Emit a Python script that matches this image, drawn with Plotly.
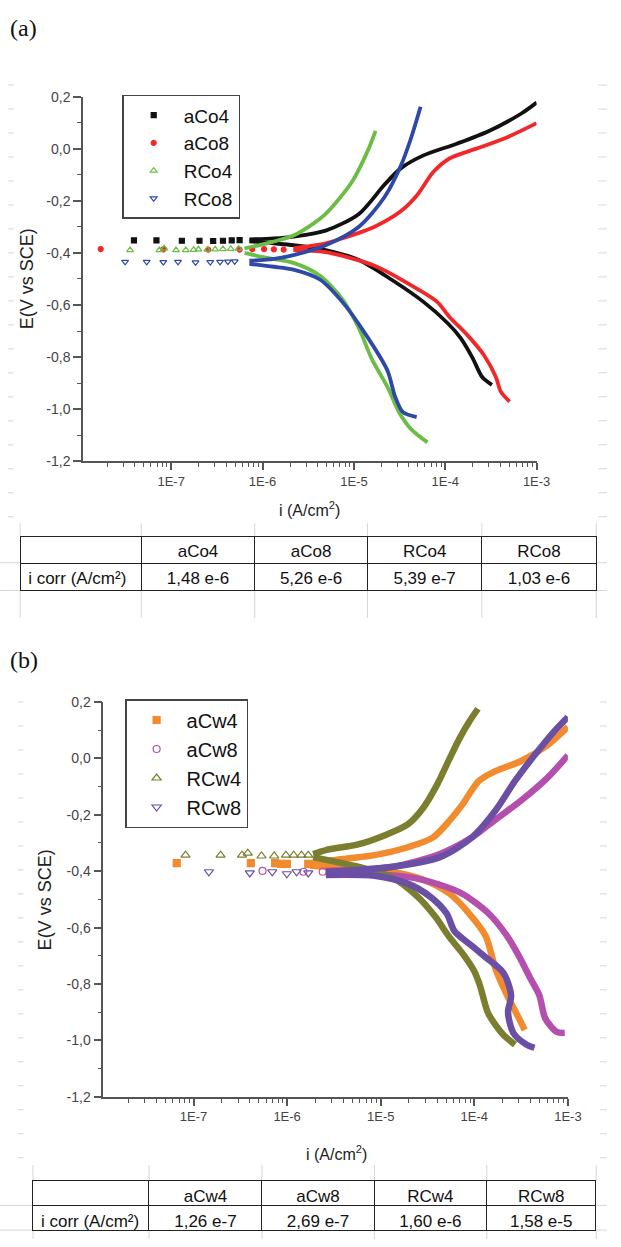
import plotly.graph_objects as go

W, H = 621, 1247

# ---------------- panel (a): Co coatings ----------------
# currents are stored as log10(i / A cm-2), potentials as E (V vs SCE)
aCo4_pts_logi = [-7.407, -7.161, -6.883, -6.690, -6.540, -6.433, -6.337, -6.251]
aCo4_pts_E = [-0.352, -0.352, -0.353, -0.353, -0.354, -0.353, -0.352, -0.351]
aCo4_anod_logi = [-6.144, -5.876, -5.662, -5.309, -4.945, -4.666, -4.484, -4.238, -3.874, -3.521, -3.167, -3.0]
aCo4_anod_E = [-0.348, -0.344, -0.337, -0.314, -0.250, -0.138, -0.074, -0.025, 0.020, 0.069, 0.136, 0.178]
aCo4_cath_logi = [-6.144, -5.876, -5.662, -5.309, -4.945, -4.591, -4.238, -3.970, -3.831, -3.703, -3.596, -3.489]
aCo4_cath_E = [-0.355, -0.363, -0.370, -0.389, -0.427, -0.502, -0.588, -0.671, -0.727, -0.802, -0.877, -0.907]

aCo8_pts_logi = [-7.771, -7.086, -6.594, -6.251, -6.112, -5.983, -5.876, -5.769]
aCo8_pts_E = [-0.385, -0.386, -0.387, -0.387, -0.385, -0.385, -0.386, -0.387]
aCo8_anod_logi = [-5.662, -5.309, -5.127, -4.773, -4.484, -4.302, -4.131, -3.949, -3.660, -3.339, -3.0]
aCo8_anod_E = [-0.382, -0.363, -0.344, -0.299, -0.239, -0.175, -0.089, -0.036, 0.001, 0.042, 0.099]
aCo8_cath_logi = [-5.662, -5.309, -4.773, -4.302, -4.088, -3.949, -3.767, -3.574, -3.446, -3.392, -3.296]
aCo8_cath_E = [-0.389, -0.397, -0.449, -0.539, -0.588, -0.648, -0.712, -0.794, -0.877, -0.933, -0.971]

RCo4_pts_logi = [-7.450, -7.129, -7.075, -6.947, -6.840, -6.754, -6.701, -6.604, -6.519, -6.433, -6.347, -6.262]
RCo4_pts_E = [-0.389, -0.389, -0.382, -0.389, -0.389, -0.388, -0.386, -0.387, -0.386, -0.385, -0.384, -0.383]
RCo4_anod_logi = [-6.197, -5.951, -5.662, -5.448, -5.309, -5.020, -4.838, -4.763]
RCo4_anod_E = [-0.382, -0.363, -0.333, -0.288, -0.250, -0.126, 0.001, 0.069]
RCo4_cath_logi = [-6.197, -5.951, -5.662, -5.373, -5.127, -4.945, -4.806, -4.634, -4.506, -4.377, -4.195]
RCo4_cath_E = [-0.400, -0.419, -0.438, -0.487, -0.577, -0.689, -0.806, -0.914, -1.012, -1.076, -1.128]

RCo8_pts_logi = [-7.504, -7.268, -7.086, -6.925, -6.733, -6.572, -6.465, -6.379, -6.304]
RCo8_pts_E = [-0.434, -0.434, -0.435, -0.434, -0.436, -0.435, -0.434, -0.433, -0.432]
RCo8_anod_logi = [-6.144, -5.876, -5.662, -5.309, -4.945, -4.666, -4.484, -4.377, -4.270]
RCo8_anod_E = [-0.430, -0.423, -0.408, -0.370, -0.299, -0.186, -0.063, 0.039, 0.162]
RCo8_cath_logi = [-6.144, -5.876, -5.662, -5.373, -5.127, -4.880, -4.634, -4.549, -4.463, -4.313]
RCo8_cath_E = [-0.442, -0.453, -0.464, -0.502, -0.588, -0.708, -0.851, -0.952, -1.012, -1.031]

# ---------------- panel (b): Cw coatings ----------------
aCw4_pts_logi = [-7.180, -6.388, -6.128, -6.065, -6.003, -5.774]
aCw4_pts_E = [-0.371, -0.371, -0.371, -0.374, -0.374, -0.374]
aCw4_anod_logi = [-5.753, -5.409, -5.065, -4.711, -4.440, -4.263, -4.128, -3.951, -3.774, -3.503, -3.222, -3.0]
aCw4_anod_E = [-0.374, -0.357, -0.343, -0.315, -0.280, -0.220, -0.164, -0.080, -0.045, -0.010, 0.046, 0.112]
aCw4_cath_logi = [-5.753, -5.232, -4.888, -4.545, -4.263, -4.055, -3.878, -3.774, -3.649, -3.524, -3.461]
aCw4_cath_E = [-0.381, -0.392, -0.402, -0.430, -0.480, -0.550, -0.630, -0.746, -0.840, -0.921, -0.963]

aCw8_pts_logi = [-6.263, -5.826, -5.620]
aCw8_pts_E = [-0.399, -0.402, -0.402]
aCw8_anod_logi = [-5.586, -4.888, -4.368, -4.024, -3.774, -3.503, -3.222, -3.0]
aCw8_anod_E = [-0.399, -0.385, -0.339, -0.280, -0.217, -0.150, -0.070, 0.011]
aCw8_cath_logi = [-5.586, -4.711, -4.368, -4.128, -3.847, -3.649, -3.524, -3.399, -3.305, -3.243, -3.118, -3.034]
aCw8_cath_E = [-0.406, -0.420, -0.448, -0.480, -0.550, -0.630, -0.700, -0.781, -0.840, -0.921, -0.970, -0.973]

RCw4_pts_logi = [-7.086, -6.711, -6.482, -6.420, -6.274, -6.138, -6.013, -5.930, -5.847, -5.774]
RCw4_pts_E = [-0.343, -0.343, -0.343, -0.336, -0.346, -0.346, -0.343, -0.343, -0.343, -0.343]
RCw4_anod_logi = [-5.722, -5.586, -5.232, -4.961, -4.711, -4.545, -4.399, -4.263, -4.159, -4.055, -3.961]
RCw4_anod_E = [-0.339, -0.325, -0.304, -0.273, -0.234, -0.175, -0.094, 0.000, 0.070, 0.130, 0.176]
RCw4_cath_logi = [-5.722, -5.232, -4.888, -4.607, -4.420, -4.274, -4.107, -4.003, -3.940, -3.857, -3.774, -3.690, -3.565]
RCw4_cath_E = [-0.350, -0.385, -0.420, -0.490, -0.560, -0.630, -0.700, -0.753, -0.805, -0.900, -0.945, -0.980, -1.015]

RCw8_pts_logi = [-6.836, -6.399, -6.159, -6.003, -5.899, -5.774]
RCw8_pts_E = [-0.402, -0.406, -0.402, -0.409, -0.402, -0.406]
RCw8_anod_logi = [-5.586, -4.888, -4.368, -4.024, -3.774, -3.565, -3.357, -3.149, -3.0]
RCw8_anod_E = [-0.402, -0.385, -0.350, -0.280, -0.185, -0.080, 0.011, 0.095, 0.147]
RCw8_cath_logi = [-5.586, -5.065, -4.711, -4.472, -4.295, -4.211, -4.024, -3.899, -3.690, -3.607, -3.640, -3.580, -3.440, -3.357]
RCw8_cath_E = [-0.413, -0.416, -0.444, -0.490, -0.550, -0.613, -0.665, -0.700, -0.760, -0.840, -0.900, -0.975, -1.015, -1.026]

# ---------------- tables ----------------
table_a_head = ["", "aCo4", "aCo8", "RCo4", "RCo8"]
table_a_icorr = ["1,48 e-6", "5,26 e-6", "5,39 e-7", "1,03 e-6"]
table_b_head = ["", "aCw4", "aCw8", "RCw4", "RCw8"]
table_b_icorr = ["1,26 e-7", "2,69 e-7", "1,60 e-6", "1,58 e-5"]
row_label = "i\u00a0corr\u00a0(A/cm²)"

x_tick_vals = [1e-7, 1e-6, 1e-5, 1e-4, 1e-3]
x_tick_text = ["1E-7", "1E-6", "1E-5", "1E-4", "1E-3"]
y_tick_vals = [-1.2, -1.0, -0.8, -0.6, -0.4, -0.2, 0.0, 0.2]
y_tick_text = ["-1,2", "-1,0", "-0,8", "-0,6", "-0,4", "-0,2", "0,0", "0,2"]


def px(x):
    return x / W


def py(y):
    return 1 - y / H


def branch(cath_logi, cath_E, anod_logi, anod_E):
    xs = [10 ** v for v in cath_logi] + [None] + [10 ** v for v in anod_logi]
    ys = list(cath_E) + [None] + list(anod_E)
    return xs, ys


fig = go.Figure()

panel_a = [
    ("aCo4", "#111111", "square", 5, aCo4_pts_logi, aCo4_pts_E, aCo4_cath_logi, aCo4_cath_E, aCo4_anod_logi, aCo4_anod_E),
    ("aCo8", "#f0282a", "circle", 5, aCo8_pts_logi, aCo8_pts_E, aCo8_cath_logi, aCo8_cath_E, aCo8_anod_logi, aCo8_anod_E),
    ("RCo4", "#6cbd45", "triangle-up-open", 6, RCo4_pts_logi, RCo4_pts_E, RCo4_cath_logi, RCo4_cath_E, RCo4_anod_logi, RCo4_anod_E),
    ("RCo8", "#2e48a8", "triangle-down-open", 6, RCo8_pts_logi, RCo8_pts_E, RCo8_cath_logi, RCo8_cath_E, RCo8_anod_logi, RCo8_anod_E),
]
panel_b = [
    ("aCw4", "#f28a2e", "square", 7, aCw4_pts_logi, aCw4_pts_E, aCw4_cath_logi, aCw4_cath_E, aCw4_anod_logi, aCw4_anod_E),
    ("aCw8", "#b44fae", "circle-open", 7, aCw8_pts_logi, aCw8_pts_E, aCw8_cath_logi, aCw8_cath_E, aCw8_anod_logi, aCw8_anod_E),
    ("RCw4", "#7b7e2f", "triangle-up-open", 8, RCw4_pts_logi, RCw4_pts_E, RCw4_cath_logi, RCw4_cath_E, RCw4_anod_logi, RCw4_anod_E),
    ("RCw8", "#6a4fa5", "triangle-down-open", 8, RCw8_pts_logi, RCw8_pts_E, RCw8_cath_logi, RCw8_cath_E, RCw8_anod_logi, RCw8_anod_E),
]

for panel, xa, ya, leg, lw in [(panel_a, "x", "y", "legend", 3.8), (panel_b, "x2", "y2", "legend2", 6.5)]:
    for name, col, sym, size, pl, pe, cl, ce, al, ae in panel:
        bx, by = branch(cl, ce, al, ae)
        fig.add_trace(go.Scatter(
            x=bx, y=by, mode="lines", xaxis=xa, yaxis=ya, showlegend=False,
            line=dict(color=col, width=lw, shape="spline", smoothing=0.8),
            legendgroup=name, hoverinfo="skip",
        ))
        fig.add_trace(go.Scatter(
            x=[10 ** v for v in pl], y=pe, mode="markers", name=name,
            xaxis=xa, yaxis=ya, legend=leg, legendgroup=name,
            marker=dict(color=col, symbol=sym, size=size, line=dict(color=col, width=1.2)),
        ))

# tables
cell_font = dict(family="Liberation Sans", size=17, color="#111")
fig.add_trace(go.Table(
    domain=dict(x=[px(20.6), px(610)], y=[py(610), py(535)]),
    columnwidth=[124, 116, 115.4, 117, 117],
    header=dict(values=table_a_head, height=27, align="center",
                line=dict(color="#222", width=1), fill_color="white", font=cell_font),
    cells=dict(values=[[row_label]] + [[v] for v in table_a_icorr], height=27,
               align=["left", "center", "center", "center", "center"],
               line=dict(color="#222", width=1), fill_color="white", font=cell_font),
))
fig.add_trace(go.Table(
    domain=dict(x=[px(33.7), px(610)], y=[py(1247), py(1188)]),
    columnwidth=[118.8, 115.5, 115, 115, 112],
    header=dict(values=table_b_head, height=25, align="center",
                line=dict(color="#222", width=1), fill_color="white", font=cell_font),
    cells=dict(values=[[row_label]] + [[v] for v in table_b_icorr], height=25,
               align=["left", "center", "center", "center", "center"],
               line=dict(color="#222", width=1), fill_color="white", font=cell_font),
))

minor_x = [m * 10 ** e for e in range(-8, -3) for m in range(2, 10)]
minor_y = [-1.1, -0.9, -0.7, -0.5, -0.3, -0.1, 0.1]
tick_font = dict(family="Liberation Sans", size=13, color="#444")


def xaxis_style(dom, anchor):
    return dict(
        type="log", range=[-7.964, -3.0], domain=dom, anchor=anchor,
        showline=True, linecolor="#555", linewidth=1.6, mirror=False,
        ticks="outside", ticklen=7, tickwidth=1.5, tickcolor="#555",
        tickmode="array", tickvals=x_tick_vals, ticktext=x_tick_text,
        tickfont=tick_font, showgrid=False, zeroline=False,
        minor=dict(tickmode="array", tickvals=minor_x, ticks="outside",
                   ticklen=4, tickwidth=1.2, tickcolor="#555", showgrid=False),
    )


def yaxis_style(dom, anchor):
    return dict(
        range=[-1.2, 0.2], domain=dom, anchor=anchor,
        showline=True, linecolor="#555", linewidth=1.6,
        ticks="outside", ticklen=8, tickwidth=1.5, tickcolor="#555",
        tickmode="array", tickvals=y_tick_vals, ticktext=y_tick_text,
        tickfont=dict(tick_font, size=14), showgrid=False, zeroline=False,
        minor=dict(tickmode="array", tickvals=minor_y, ticks="outside",
                   ticklen=4, tickwidth=1.2, tickcolor="#555", showgrid=False),
    )


legend_style = dict(
    xanchor="left", yanchor="top", bgcolor="white",
    bordercolor="#444", borderwidth=1.5, itemwidth=50,
    tracegroupgap=0, itemclick=False,
)

ann_font = dict(family="Liberation Sans", color="#222")
annotations = [
    dict(text="(a)", x=px(8), y=py(20), xanchor="left",
         font=dict(family="Liberation Serif", size=24, color="#111")),
    dict(text="(b)", x=px(8), y=py(660), xanchor="left",
         font=dict(family="Liberation Serif", size=24, color="#111")),
    dict(text="E(V vs SCE)", x=px(28), y=py(274.5), textangle=-90,
         font=dict(ann_font, size=18)),
    dict(text="E(V vs SCE)", x=px(46), y=py(903), textangle=-90,
         font=dict(ann_font, size=18)),
    dict(text="i (A/cm<sup>2</sup>)", x=px(317), y=py(508),
         font=dict(ann_font, size=16)),
    dict(text="i (A/cm<sup>2</sup>)", x=px(344), y=py(1160),
         font=dict(ann_font, size=16)),
]
for a in annotations:
    a.setdefault("xanchor", "center")
    a.update(xref="paper", yref="paper", showarrow=False, yanchor="middle")

# faint background gridlines of the source page
shapes = []
grey = dict(color="#d6d6d6", width=1)
for k in range(19):
    y = 78 + 24.3 * k
    shapes.append(dict(type="line", x0=px(8), x1=px(14), y0=py(y), y1=py(y), line=grey))
    shapes.append(dict(type="line", x0=px(612), x1=px(621), y0=py(y), y1=py(y), line=grey))
for k in range(20):
    y = 703 + 24.3 * k
    shapes.append(dict(type="line", x0=px(18), x1=px(24), y0=py(y), y1=py(y), line=grey))
    shapes.append(dict(type="line", x0=px(614), x1=px(621), y0=py(y), y1=py(y), line=grey))
for xb in [20.6, 144.5, 260.6, 376, 493, 610]:
    shapes.append(dict(type="line", x0=px(xb), x1=px(xb), y0=py(522), y1=py(535), line=grey))
    shapes.append(dict(type="line", x0=px(xb), x1=px(xb), y0=py(590), y1=py(618), line=grey))
for xb in [33.7, 152.5, 268, 383, 498, 610]:
    shapes.append(dict(type="line", x0=px(xb), x1=px(xb), y0=py(1172), y1=py(1188), line=grey))
    shapes.append(dict(type="line", x0=px(xb), x1=px(xb), y0=py(1238), y1=py(1247), line=grey))
for yb in [562, 590]:
    shapes.append(dict(type="line", x0=0, x1=px(20.6), y0=py(yb), y1=py(yb), line=grey))
    shapes.append(dict(type="line", x0=px(610), x1=1, y0=py(yb), y1=py(yb), line=grey))
for yb in [1213, 1238]:
    shapes.append(dict(type="line", x0=0, x1=px(33.7), y0=py(yb), y1=py(yb), line=grey))
    shapes.append(dict(type="line", x0=px(610), x1=1, y0=py(yb), y1=py(yb), line=grey))
for s in shapes:
    s.update(xref="paper", yref="paper", layer="below")

fig.update_layout(
    width=W, height=H, autosize=False,
    margin=dict(l=0, r=0, t=0, b=0),
    paper_bgcolor="white", plot_bgcolor="white",
    xaxis=xaxis_style([px(85), px(549)], "y"),
    yaxis=yaxis_style([py(459), py(90)], "x"),
    xaxis2=xaxis_style([px(105.7), px(581)], "y2"),
    yaxis2=yaxis_style([py(1103), py(703)], "x2"),
    legend=dict(legend_style, x=px(125), y=py(88),
                font=dict(family="Liberation Sans", size=19, color="#111")),
    legend2=dict(legend_style, x=px(128), y=py(700),
                 font=dict(family="Liberation Sans", size=20, color="#111")),
    annotations=annotations,
    shapes=shapes,
)

# pin the figure to the top-left of the window so page margins and
# scrollbars cannot shift it
page_fix = (
    "var gd = document.getElementById('{plot_id}');"
    "gd.style.position = 'fixed'; gd.style.left = '0px'; gd.style.top = '0px';"
    "document.documentElement.style.overflow = 'hidden';"
    "document.body.style.margin = '0';"
    "document.body.style.overflow = 'hidden';"
)
fig.write_html("out.html", config={"displayModeBar": False}, post_script=page_fix)
